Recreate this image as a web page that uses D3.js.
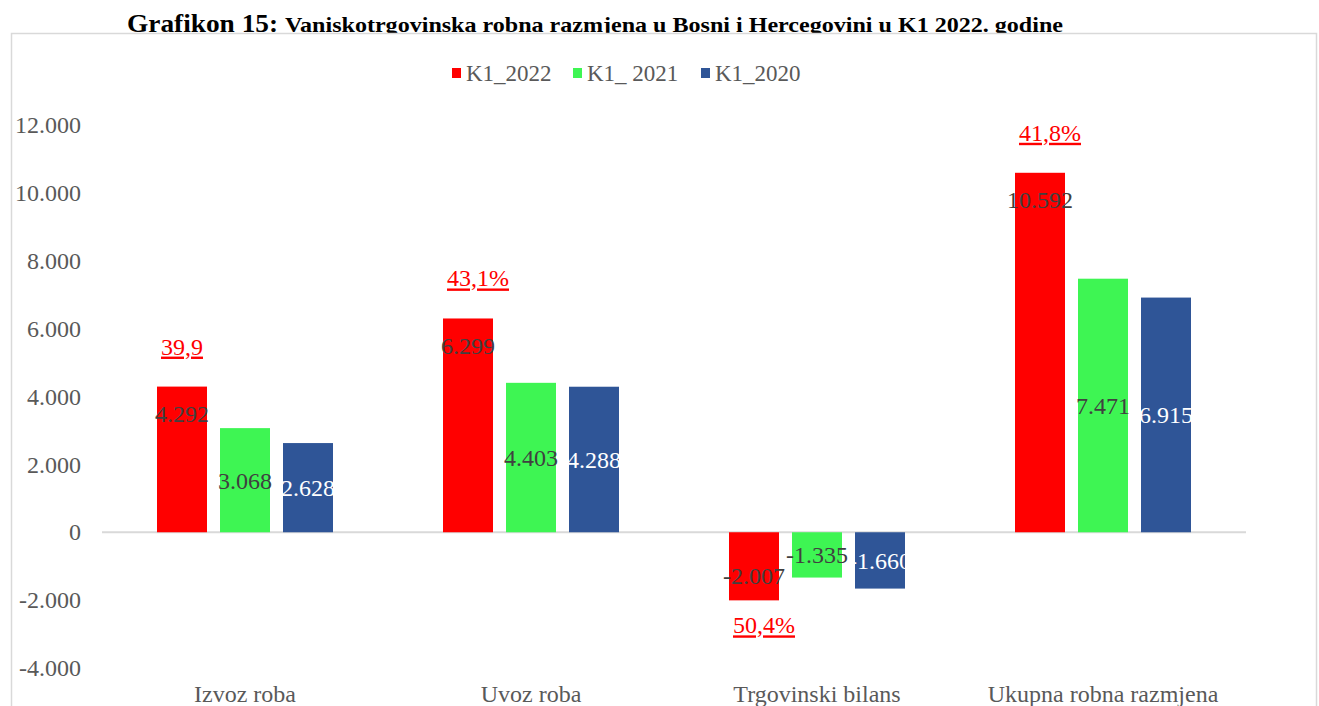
<!DOCTYPE html>
<html>
<head>
<meta charset="utf-8">
<script src="https://cdn.jsdelivr.net/npm/d3@7"></script>
<style>
  body { margin: 0; background: #fff; }
  svg text { font-family: "Liberation Serif", "Times New Roman", serif; }
</style>
</head>
<body>
<div class="chart"></div>
<script>
// DATA ------------------------------------
const categories = ['Izvoz roba', 'Uvoz roba', 'Trgovinski bilans', 'Ukupna robna razmjena'];
const seriesNames = ['K1_2022', 'K1_ 2021', 'K1_2020'];
const k1_2022 = [4292, 6299, -2007, 10592];
const k1_2021 = [3068, 4403, -1335, 7471];
const k1_2020 = [2628, 4288, -1660, 6915];
const growthLabels = ['39,9', '43,1%', '50,4%', '41,8%'];
const yTicks = [-4000, -2000, 0, 2000, 4000, 6000, 8000, 10000, 12000];

const colors = ['#ff0000', '#3ef553', '#2f5597'];
const labelColors = ['#404040', '#404040', '#ffffff'];
const serif = '"Liberation Serif", "Times New Roman", serif';

// CHART INIT ------------------------------
const W = 1319, H = 706;
const svg = d3.select('.chart')
    .append('svg')
    .attr('width', W)
    .attr('height', H);

// title (sits behind the chart frame, like the original)
const title = svg.append('text')
    .attr('x', 127)
    .attr('y', 32)
    .attr('font-weight', 'bold')
    .attr('fill', '#000')
    .attr('textLength', 936)
    .attr('lengthAdjust', 'spacingAndGlyphs');
title.append('tspan').attr('font-size', 25).text('Grafikon 15: ');
title.append('tspan').attr('font-size', 22)
    .text('Vaniskotrgovinska robna razmjena u Bosni i Hercegovini  u K1 2022. godine');

// chart frame
svg.append('rect')
    .attr('x', 11.5)
    .attr('y', 33.5)
    .attr('width', 1305)
    .attr('height', 720)
    .attr('fill', '#fff')
    .attr('stroke', '#d9d9d9')
    .attr('stroke-width', 1.5);

// scales
const x0 = d3.scaleBand()
    .domain(categories)
    .range([102, 1246]);

const x1 = d3.scaleBand()
    .domain(seriesNames)
    .range([55, 231])
    .paddingInner(13 / 63);

const y = d3.scaleLinear()
    .domain([-4000, 12000])
    .range([668, 125]);

const locale = d3.formatLocale({
    decimal: ',',
    thousands: '.',
    grouping: [3],
    currency: ['', ''],
    minus: '-'
});
const fmt = locale.format(',');

// y axis labels (no axis line, no grid)
const yAxis = d3.axisLeft(y)
    .tickValues(yTicks)
    .tickSize(0)
    .tickPadding(0)
    .tickFormat(fmt);

svg.append('g')
    .attr('class', 'axis y-axis')
    .attr('transform', 'translate(81,0)')
    .call(yAxis)
    .call(g => g.select('.domain').remove())
    .call(g => g.selectAll('text')
        .attr('font-size', 24)
        .style('font-family', serif)
        .attr('fill', '#595959'));

// zero line
svg.append('line')
    .attr('x1', x0.range()[0])
    .attr('x2', x0.range()[1])
    .attr('y1', y(0))
    .attr('y2', y(0))
    .attr('stroke', '#d9d9d9')
    .attr('stroke-width', 2);

// category labels
const xAxis = d3.axisBottom(x0).tickSize(0).tickPadding(0);
svg.append('g')
    .attr('class', 'axis x-axis')
    .attr('transform', 'translate(0,685)')
    .call(xAxis)
    .call(g => g.select('.domain').remove())
    .call(g => g.selectAll('text')
        .attr('font-size', 24)
        .style('font-family', serif)
        .attr('fill', '#595959'));

// bars
const seriesValues = [k1_2022, k1_2021, k1_2020];
const rows = [];
seriesValues.forEach((vals, s) => {
    vals.forEach((v, i) => rows.push({ s: s, cat: categories[i], v: v }));
});

const group = svg.append('g');

group.selectAll('rect')
    .data(rows)
    .enter()
    .append('rect')
    .attr('x', d => x0(d.cat) + x1(seriesNames[d.s]))
    .attr('y', d => y(Math.max(0, d.v)))
    .attr('width', x1.bandwidth())
    .attr('height', d => Math.abs(y(d.v) - y(0)))
    .attr('fill', d => colors[d.s]);

// value labels: red at inside end, others centered
group.selectAll('text.val')
    .data(rows)
    .enter()
    .append('text')
    .attr('class', 'val')
    .attr('x', d => x0(d.cat) + x1(seriesNames[d.s]) + x1.bandwidth() / 2)
    .attr('y', d => {
        if (d.s === 0) return d.v >= 0 ? y(d.v) + 27 : y(d.v) - 25;
        return (y(d.v) + y(0)) / 2;
    })
    .attr('dy', '0.35em')
    .attr('text-anchor', 'middle')
    .attr('font-size', 24)
    .style('font-family', serif)
    .attr('fill', d => labelColors[d.s])
    .text(d => fmt(d.v));

// growth annotations over red bars
group.selectAll('text.pct')
    .data(categories)
    .enter()
    .append('text')
    .attr('class', 'pct')
    .attr('x', d => x0(d) + x1(seriesNames[0]) + 4)
    .attr('y', (d, i) => k1_2022[i] >= 0 ? y(k1_2022[i]) - 32 : y(k1_2022[i]) + 33)
    .attr('font-size', 24)
    .style('font-family', serif)
    .attr('fill', '#ff0000')
    .attr('text-decoration', 'underline')
    .text((d, i) => growthLabels[i]);

// legend
const legendX = [452, 573, 701];
const legend = svg.append('g');
seriesNames.forEach((name, i) => {
    legend.append('rect')
        .attr('x', legendX[i])
        .attr('y', 68)
        .attr('width', 9)
        .attr('height', 10)
        .attr('fill', colors[i]);
    legend.append('text')
        .attr('x', legendX[i] + 14)
        .attr('y', 73)
        .attr('dy', '0.35em')
        .attr('font-size', 23)
        .style('font-family', serif)
        .attr('fill', '#595959')
        .text(name);
});
</script>
</body>
</html>
